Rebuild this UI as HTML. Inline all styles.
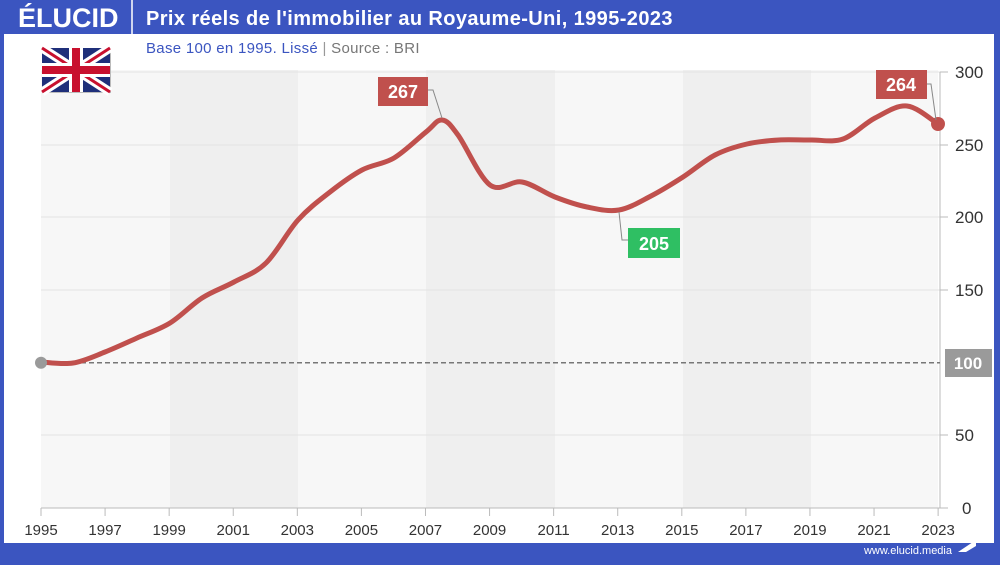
<!DOCTYPE html>
<html><head><meta charset="utf-8"><style>
body{margin:0;width:1000px;height:560px;overflow:hidden;background:#3b55c0;font-family:"Liberation Sans",sans-serif}
</style></head><body>
<svg width="1000" height="560" xmlns="http://www.w3.org/2000/svg" font-family="Liberation Sans, sans-serif">
<rect x="0" y="0" width="1000" height="560" fill="#3b55c0"/>
<rect x="4" y="34" width="990" height="509" fill="#ffffff"/>
<text x="18" y="27" fill="#fff" font-size="27" font-weight="bold">ÉLUCID</text>
<line x1="132" y1="0" x2="132" y2="34" stroke="#fff" stroke-width="1.5"/>
<text x="146" y="25" fill="#fff" font-size="20" font-weight="bold" letter-spacing="0.4">Prix réels de l'immobilier au Royaume-Uni, 1995-2023</text>
<text x="146" y="53" font-size="15" fill="#3b55c0" letter-spacing="0.3">Base 100 en 1995. Lissé <tspan fill="#999">|</tspan> <tspan fill="#777">Source : BRI</tspan></text>
<text x="952" y="554" font-size="11" fill="#fff" text-anchor="end">www.elucid.media</text>
<polygon points="958,552 976,540 976,546 966,552" fill="#fff"/>
<!-- plot bg -->
<rect x="41" y="70" width="897" height="438" fill="#f7f7f7"/>
<rect x="170" y="70" width="128" height="438" fill="#efefef"/>
<rect x="426" y="70" width="129" height="438" fill="#efefef"/>
<rect x="683" y="70" width="128" height="438" fill="#efefef"/>
<g stroke="#e3e3e3" stroke-width="1">
<line x1="41" x2="940" y1="72" y2="72"/><line x1="41" x2="940" y1="145" y2="145"/><line x1="41" x2="940" y1="217" y2="217"/><line x1="41" x2="940" y1="290" y2="290"/><line x1="41" x2="940" y1="435" y2="435"/>
</g>
<!-- flag -->
<g transform="translate(42,48)">
<rect x="1" y="1" width="68" height="44" fill="#bbb"/>
<rect width="68" height="44" fill="#1f2f7a"/>
<path d="M0,0 L68,44 M68,0 L0,44" stroke="#fff" stroke-width="9"/>
<path d="M0,0 L68,44 M68,0 L0,44" stroke="#c8102e" stroke-width="3"/>
<rect x="27" y="0" width="14" height="44" fill="#fff"/><rect x="0" y="15" width="68" height="14" fill="#fff"/>
<rect x="30" y="0" width="8" height="44" fill="#c8102e"/><rect x="0" y="18" width="68" height="8" fill="#c8102e"/>
</g>
<line x1="41" x2="940" y1="508" y2="508" stroke="#bbb"/>
<line x1="940" x2="940" y1="72" y2="508" stroke="#bbb"/>
<g stroke="#bbb"><line x1="940" x2="948" y1="72" y2="72"/><line x1="940" x2="948" y1="145" y2="145"/><line x1="940" x2="948" y1="217" y2="217"/><line x1="940" x2="948" y1="290" y2="290"/><line x1="940" x2="948" y1="435" y2="435"/><line x1="940" x2="948" y1="508" y2="508"/></g>
<g font-size="17" fill="#333">
<text x="955" y="78">300</text><text x="955" y="151">250</text><text x="955" y="223">200</text><text x="955" y="296">150</text><text x="955" y="441">50</text><text x="962" y="514">0</text>
</g>
<g id="xt" font-size="15" fill="#333" text-anchor="middle"></g>
<line x1="41" x2="940" y1="362.7" y2="362.7" stroke="#777" stroke-width="1.5" stroke-dasharray="5,3"/>
<rect x="945" y="349" width="47" height="28" fill="#9a9a9a"/>
<text x="968" y="369" font-size="17" font-weight="bold" fill="#fff" text-anchor="middle">100</text>
<path id="curve" fill="none" stroke="#c0504d" stroke-width="5" stroke-linecap="round"/>
<circle cx="41" cy="362.7" r="6" fill="#9a9a9a"/>
<circle cx="938" cy="124" r="7" fill="#c0504d"/>
<polyline points="428,90 433,90 442,118" fill="none" stroke="#888"/>
<rect x="378" y="77" width="50" height="29" fill="#c0504d"/>
<text x="403" y="98" font-size="18" font-weight="bold" fill="#fff" text-anchor="middle">267</text>
<polyline points="619,212 622,240 628,240" fill="none" stroke="#888"/>
<rect x="628" y="228" width="52" height="30" fill="#2fbf63"/>
<text x="654" y="250" font-size="18" font-weight="bold" fill="#fff" text-anchor="middle">205</text>
<polyline points="927,84 931,84 936,120" fill="none" stroke="#888"/>
<rect x="876" y="70" width="51" height="29" fill="#c0504d"/>
<text x="901" y="91" font-size="18" font-weight="bold" fill="#fff" text-anchor="middle">264</text>
</svg>
<script>
var pts=[[41,362],[73,363],[105,352],[137,338],[170,323],[202,298],[234,282],[266,263],[298,220],[330,192],[362,170],[394,158],[426,132],[442,120],[458,135],[490,185],[522,182],[555,197],[587,207],[619,210],[651,196],[683,177],[715,155],[747,144],[779,140],[811,140],[843,139],[875,118],[907,106],[938,124]];
var d="M"+pts[0].join(",");
for(var i=0;i<pts.length-1;i++){var p0=pts[i-1]||pts[i],p1=pts[i],p2=pts[i+1],p3=pts[i+2]||p2;
var c1=[p1[0]+(p2[0]-p0[0])/6,p1[1]+(p2[1]-p0[1])/6],c2=[p2[0]-(p3[0]-p1[0])/6,p2[1]-(p3[1]-p1[1])/6];
d+=" C"+c1+" "+c2+" "+p2;}
document.getElementById("curve").setAttribute("d",d);
var g=document.getElementById("xt"),s="";
for(var y=1995;y<=2023;y+=2){var x=41+(y-1995)*32.04;s+='<line x1="'+x+'" x2="'+x+'" y1="508" y2="516" stroke="#bbb"/><text x="'+x+'" y="535">'+y+'</text>';}
g.innerHTML=s;
</script>
</body></html>
